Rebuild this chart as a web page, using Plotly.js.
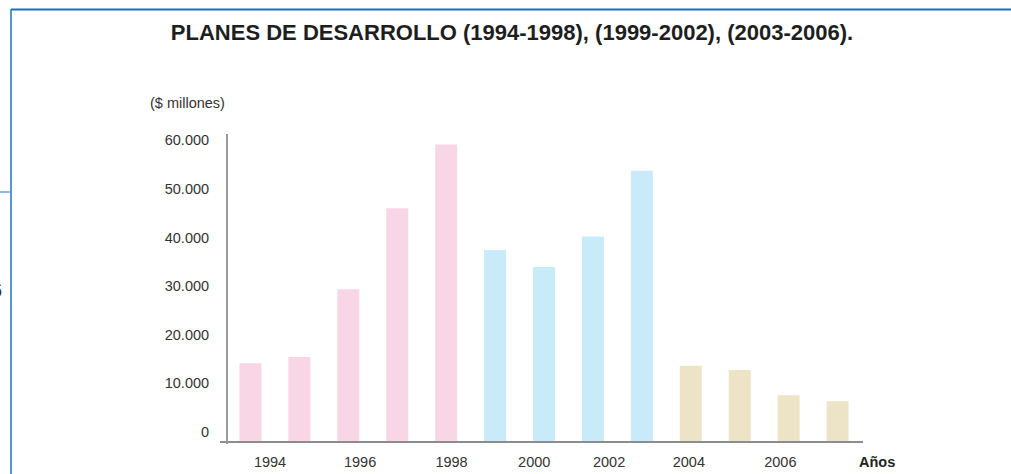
<!DOCTYPE html>
<html>
<head>
<meta charset="utf-8">
<script src="https://cdn.plot.ly/plotly-3.0.1.min.js"></script>
<style>
  html, body { margin: 0; padding: 0; background: #ffffff; }
  #chart { width: 1011px; height: 474px; }
</style>
</head>
<body>
<div id="chart"></div>
<script>
// ---- Data ----
const years  = [1994, 1995, 1996, 1997, 1998, 1999, 2000, 2001, 2002, 2003, 2004, 2005, 2006];
const values = [16000, 17300, 31200, 47900, 61000, 39300, 35800, 42100, 55600, 15500, 14600, 9400, 8200]; // $ millones
const plans  = ['1994-1998','1994-1998','1994-1998','1994-1998','1994-1998',
                '1999-2002','1999-2002','1999-2002','1999-2002',
                '2003-2006','2003-2006','2003-2006','2003-2006'];
const xTickLabels = ['1994', '1996', '1998', '2000', '2002', '2004', '2006'];
const yTicks = [0, 10000, 20000, 30000, 40000, 50000, 60000];

// ---- Styles ----
const planColors = { '1994-1998': '#F9D6E6', '1999-2002': '#C9EAF9', '2003-2006': '#EDE4C8' };
const FONT = "'Liberation Sans', Arial, sans-serif";
const TICK = 14.5;

// Geometry of the plot area (pixels)
const L = 220, R = 863, T = 134, B = 441, W = 1011, H = 474;
const pw = R - L, ph = B - T;
const px = x => (x - L) / pw;          // pixel -> paper x
const py = y => (B - y) / ph;          // pixel -> paper y

// x tick label positions (as placed in the original, in year units)
const xTickPos = [1994.40, 1996.24, 1998.11, 1999.80, 2001.33, 2002.96, 2004.83];

const trace = {
  type: 'bar',
  x: years,
  y: values,
  width: 0.45,
  marker: { color: plans.map(p => planColors[p]), line: { width: 0 } },
  hoverinfo: 'x+y'
};

const layout = {
  width: W, height: H,
  margin: { l: L, r: W - R, t: T, b: H - B, pad: 0 },
  paper_bgcolor: '#ffffff',
  plot_bgcolor: '#ffffff',
  separators: ',.',
  showlegend: false,
  font: { family: FONT, size: TICK, color: '#333333' },
  title: {
    text: '<b>PLANES DE DESARROLLO (1994-1998), (1999-2002), (2003-2006).</b>',
    font: { family: FONT, size: 22, color: '#1e1e1e' },
    x: 512 / W, xanchor: 'center',
    y: 1 - 32 / H, yanchor: 'middle', yref: 'container'
  },
  xaxis: {
    range: [1993.377, 2006.52],
    tickmode: 'array',
    tickvals: xTickPos,
    ticktext: xTickLabels,
    ticks: '',
    ticklabelstandoff: 7,
    showgrid: false, zeroline: false,
    showline: true, linecolor: '#8c8c8c', linewidth: 1.5,
    tickfont: { family: FONT, size: TICK, color: '#333333' },
    fixedrange: true
  },
  yaxis: {
    range: [0, 63170],
    anchor: 'free',
    position: 7 / pw,
    tickmode: 'array',
    tickvals: yTicks,
    tickformat: ',d',
    ticks: '',
    ticklabelstandoff: 14,
    ticklabelshift: -9,
    showgrid: false, zeroline: false,
    showline: true, linecolor: '#9a9a9a', linewidth: 2,
    tickfont: { family: FONT, size: TICK, color: '#333333' },
    fixedrange: true
  },
  annotations: [
    { text: '($ millones)', xref: 'paper', yref: 'paper', x: px(187), y: py(103),
      xanchor: 'center', yanchor: 'middle', showarrow: false,
      font: { family: FONT, size: TICK, color: '#333333' } },
    { text: '<b>Años</b>', xref: 'paper', yref: 'paper', x: px(876.5), y: py(461.5),
      xanchor: 'center', yanchor: 'middle', showarrow: false,
      font: { family: FONT, size: TICK, color: '#222222' } },
    { text: '6', xref: 'paper', yref: 'paper', x: px(3.5), y: py(290),
      xanchor: 'right', yanchor: 'middle', showarrow: false,
      font: { family: FONT, size: 20, color: '#333333' } }
  ],
  shapes: [
    // page frame decorations
    { type: 'line', xref: 'paper', yref: 'paper', x0: px(11), x1: px(1011), y0: py(9.5), y1: py(9.5),
      line: { color: '#1f6dbd', width: 2.2 } },
    { type: 'line', xref: 'paper', yref: 'paper', x0: px(11), x1: px(11), y0: py(9), y1: py(474),
      line: { color: '#2b7bc6', width: 1.6 } },
    { type: 'line', xref: 'paper', yref: 'paper', x0: px(0), x1: px(11), y0: py(192), y1: py(192),
      line: { color: '#5c9bd6', width: 1.4 } },
    // small extension of the y axis below the x axis
    { type: 'line', xref: 'paper', yref: 'paper', x0: px(227), x1: px(227), y0: py(441), y1: py(444),
      line: { color: '#9a9a9a', width: 2 } }
  ]
};

Plotly.newPlot('chart', [trace], layout, { staticPlot: true, displayModeBar: false });
</script>
</body>
</html>
